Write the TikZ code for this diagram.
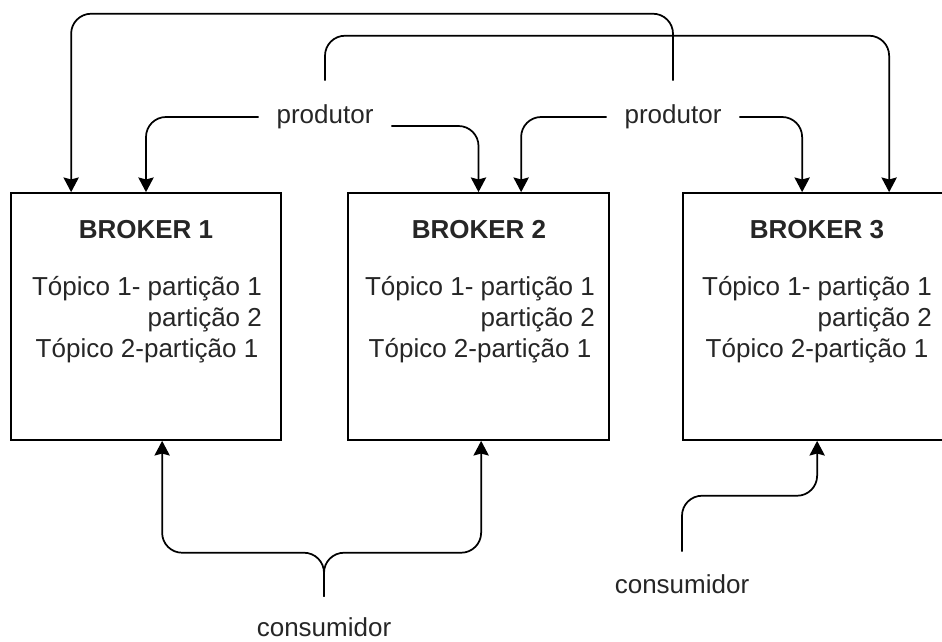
\documentclass[tikz,border=0pt]{standalone}
\usepackage{fontspec}
\setmainfont{Liberation Sans}
\usetikzlibrary{arrows.meta,calc}
\newcommand\brokerbody{\begin{tabular}[t]{@{}r@{}}Tópico 1- partição 1\\ partição 2\\ \multicolumn{1}{@{}c@{}}{Tópico 2-partição 1}\end{tabular}}
\begin{document}
\begin{tikzpicture}[x=0.75pt,y=-0.75pt,
  every node/.style={font=\fontsize{19.5pt}{23.6pt}\selectfont, text=black!85},
  brokerbox/.style={draw=black, line width=1.3pt, inner sep=0pt, minimum height=185.25pt},
  title/.style={anchor=base, font=\fontsize{19.5pt}{23.6pt}\selectfont\bfseries},
  body/.style={anchor=base, inner sep=0pt},
  prod/.style={inner sep=0pt, minimum width=99pt, minimum height=54pt},
  cons/.style={inner sep=0pt, minimum height=48.75pt},
  conn/.style={draw=black, line width=1.3pt, rounded corners=15pt},
  arr/.style={conn, -{Stealth[length=11pt,width=11.5pt,inset=1.5pt]}}
]
\useasboundingbox (0,0) rectangle (942,642);
\clip (0,0) rectangle (942,642);

% brokers
\node[brokerbox, minimum width=202.5pt] (b1) at (146,316.5) {};
\node[brokerbox, minimum width=195.75pt] (b2) at (478.5,316.5) {};
\node[brokerbox, minimum width=201.75pt] (b3) at (817.5,316.5) {};

\node[title] (t1) at (146,238) {BROKER 1};
\node[title] (t2) at (479,238) {BROKER 2};
\node[title] (t3) at (817,238) {BROKER 3};

\node[body] (s1) at (147,295) {\brokerbody};
\node[body] (s2) at (480,295) {\brokerbody};
\node[body] (s3) at (817,295) {\brokerbody};

% producers
\node[prod] (p1) at (325,117) {produtor};
\node[prod] (p2) at (673,117) {produtor};

% consumers
\node[cons, minimum height=45pt] (c1) at (324,627) {consumidor};
\node[cons] (c2) at (682,584.5) {consumidor};

% producer 1 connectors
\draw[arr] (p1.west) -| (b1.north);
\draw[arr] ($(p1.east)+(0,9)$) -| (b2.north);
\draw[arr] (p1.north) -- ++(0,-45) -| ($(b3.north west)+(207,0)$);

% producer 2 connectors
\draw[arr] (p2.west) -| ($(b2.north west)+(174,0)$);
\draw[arr] (p2.east) -| ($(b3.north west)+(120,0)$);
\draw[arr] (p2.north) -- ++(0,-67) -| ($(b1.north west)+(61,0)$);

% consumer connectors
\draw[arr] (c1.north) -- ++(0,-44) -| ($(b1.south west)+(152,0)$);
\draw[arr] (c1.north) -- ++(0,-44) -| ($(b2.south west)+(134,0)$);
\draw[arr] (c2.north) -- ++(0,-56) -| ($(b3.south west)+(135,0)$);
\end{tikzpicture}
\end{document}
